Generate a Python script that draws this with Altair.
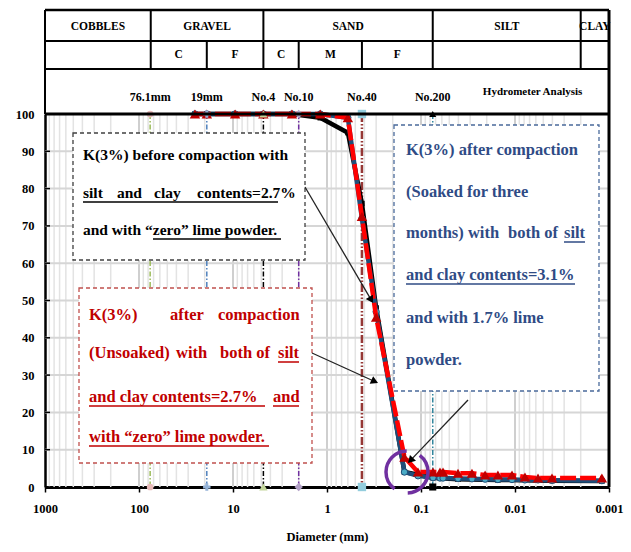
import math
import altair as alt
import pandas as pd

# ---------------- data ----------------
# Percent finer vs. particle diameter (mm): sieve analysis + hydrometer
before_mm = [25.4, 19.0, 9.5, 4.75, 2.36, 1.18, 0.6, 0.425, 0.3, 0.15, 0.075,
             0.0404, 0.0152, 0.00404, 0.00119]
before_pct = [100, 100, 100, 100, 100, 99, 95, 76, 48, 4.0, 2.5,
              2.1, 1.9, 1.7, 1.6]

soaked_mm = [25.4, 19.0, 9.5, 4.75, 2.36, 1.18, 0.6, 0.425, 0.3, 0.15,
             0.1076, 0.0745, 0.0628, 0.0583, 0.0404, 0.0287, 0.0208, 0.0152,
             0.01076, 0.00783, 0.00569, 0.00404, 0.00119]
soaked_pct = [100, 100, 100, 100, 100, 100, 99, 72, 47, 4.0,
              3.0, 2.5, 2.4, 2.4, 2.3, 2.2, 2.1, 2.0,
              2.0, 1.9, 1.9, 1.8, 1.7]

unsoaked_mm = [25.4, 19.0, 9.5, 4.75, 2.36, 1.18, 0.6, 0.425, 0.3, 0.15,
               0.1076, 0.0745, 0.0628, 0.0583, 0.0404, 0.0287, 0.0208, 0.0152,
               0.01076, 0.00783, 0.00569, 0.00404, 0.00119]
unsoaked_pct = [100, 100, 100, 100, 100, 100, 99, 72.5, 45.5, 8.0,
                4.0, 4.0, 4.0, 4.0, 3.7, 3.7, 3.2, 3.2,
                3.2, 2.7, 2.4, 2.4, 2.4]

# reference sieves
sieve_mm = [76.1, 19.0, 4.75, 2.0, 0.425, 0.075]
sieve_names = ["76.1mm", "19mm", "No.4", "No.10", "No.40", "No.200"]

# soil classification bands (mm)
class_edges = [1000, 75, 4.75, 0.075, 0.002, 0.001]
class_names = ["COBBLES", "GRAVEL", "SAND", "SILT", "CLAY"]
sub_edges = [1000, 75, 19, 4.75, 2.0, 0.425, 0.075, 0.002, 0.001]
sub_names = ["", "C", "F", "C", "M", "F", "", ""]

x_tick_values = [1000, 100, 10, 1, 0.1, 0.01, 0.001]
y_tick_values = list(range(0, 101, 10))

# ---------------- styling ----------------
W, H = 564, 373
SERIF = "Liberation Serif"
RED_TXT = "#C00000"
BLUE_TXT = "#2F4B85"

x_scale = alt.Scale(type="log", domain=[0.001, 1000], reverse=True, nice=False)
y_scale = alt.Scale(domain=[0, 100], nice=False, zero=False)

x_axis = alt.Axis(
    values=x_tick_values,
    labelExpr="datum.value >= 1 ? format(datum.value, 'd') : format(datum.value, '.3~f')",
    title="Diameter (mm)", grid=False, domain=True, domainColor="black",
    domainWidth=3, ticks=True, tickColor="black", tickWidth=1.5, tickSize=5,
    labelFont=SERIF, labelFontWeight="bold", labelFontSize=12.5,
    labelColor="black", labelPadding=10, labelFlush=False, labelOverlap=False,
    titleFont=SERIF, titleFontWeight="bold", titleFontSize=12.5,
    titleColor="black", titlePadding=16,
)
y_axis = alt.Axis(
    values=y_tick_values, grid=False, ticks=False, domain=True,
    domainColor="black", domainWidth=2.5, labelFont=SERIF,
    labelFontWeight="bold", labelFontSize=12.5, labelColor="black",
    labelPadding=11, title=None, labelFlush=False,
)


def xq(field):
    return alt.X(f"{field}:Q", scale=x_scale, axis=x_axis)


def yq(field):
    return alt.Y(f"{field}:Q", scale=y_scale, axis=y_axis)


one = pd.DataFrame({"k": [0]})


def seg(x1, y1, x2, y2, color="black", width=1.0, dash=None):
    kw = dict(color=color, strokeWidth=width)
    if dash:
        kw["strokeDash"] = dash
    return alt.Chart(one).mark_rule(**kw).encode(
        x=alt.value(x1), y=alt.value(y1), x2=alt.value(x2), y2=alt.value(y2))


def label(text, x, y, color="black", size=16.5, align="left", baseline="alphabetic"):
    return alt.Chart(one).mark_text(
        text=text, align=align, baseline=baseline, font=SERIF,
        fontSize=size, fontWeight="bold", color=color,
    ).encode(x=alt.value(x), y=alt.value(y))


layers = []

# ---- grid ----
minor = []
for e in range(-3, 3):
    for k in range(1, 10):
        v = k * 10 ** e
        if 0.001 < v < 1000:
            minor.append(round(v, 6))
grid_df = pd.DataFrame({"g": minor, "major": [abs(math.log10(v) - round(math.log10(v))) < 1e-9 for v in minor]})
layers.append(alt.Chart(grid_df[~grid_df.major]).mark_rule(color="#e3e3e3", strokeWidth=1.5).encode(
    x=xq("g"), y=alt.value(0), y2=alt.value(H)))
layers.append(alt.Chart(grid_df[grid_df.major]).mark_rule(color="#cfcfcf", strokeWidth=2).encode(
    x=xq("g"), y=alt.value(0), y2=alt.value(H)))
hgrid = pd.DataFrame({"g": y_tick_values[1:-1]})
layers.append(alt.Chart(hgrid).mark_rule(color="#d6d6d6", strokeWidth=2).encode(
    y=yq("g"), x=alt.value(0), x2=alt.value(W)))
layers.append(alt.Chart(pd.DataFrame({"g": y_tick_values})).mark_rule(color="black", strokeWidth=1.5).encode(
    y=yq("g"), x=alt.value(0), x2=alt.value(5)))

# ---- reference sieve lines ----
sieve_line_style = [
    ("#9BBB59", 1.5, [5, 2, 1.5, 2]),
    ("#4F81BD", 1.5, [5, 2, 1.5, 2]),
    ("#000000", 1.5, [5, 2, 1.5, 2]),
    ("#7030A0", 1.5, [5, 2, 1.5, 2]),
    ("#953735", 2.5, [8, 2, 1.5, 2, 1.5, 2]),
    ("#31859C", 1.5, [5, 2, 1.5, 2]),
]
for d, (col, w, dash) in zip(sieve_mm, sieve_line_style):
    layers.append(alt.Chart(pd.DataFrame({"d": [d]})).mark_rule(
        color=col, strokeWidth=w, strokeDash=dash).encode(
        x=xq("d"), y=alt.value(0), y2=alt.value(H)))

# ---- gradation curves ----
before = pd.DataFrame({"d": before_mm, "p": before_pct})
soaked = pd.DataFrame({"d": soaked_mm, "p": soaked_pct})
unsoaked = pd.DataFrame({"d": unsoaked_mm, "p": unsoaked_pct})

layers.append(alt.Chart(before).mark_line(color="black", strokeWidth=4.5).encode(x=xq("d"), y=yq("p")))
layers.append(alt.Chart(before).mark_point(shape="square", filled=True, size=30, color="black", opacity=1).encode(
    x=xq("d"), y=yq("p")))
layers.append(alt.Chart(soaked).mark_line(color="#1F4E79", strokeWidth=4.5).encode(x=xq("d"), y=yq("p")))
layers.append(alt.Chart(soaked).mark_point(shape="circle", filled=True, size=40, fill="#4BACC6",
                                           stroke="#1F4E79", strokeWidth=1, opacity=1).encode(
    x=xq("d"), y=yq("p")))
layers.append(alt.Chart(unsoaked).mark_line(color="#FF0000", strokeWidth=4.5, strokeDash=[16, 4]).encode(
    x=xq("d"), y=yq("p")))
layers.append(alt.Chart(unsoaked).mark_point(shape="triangle-up", filled=True, size=110,
                                             color="#C00000", opacity=1).encode(
    x=xq("d"), y=yq("p")))

# ---- sieve markers at 0 % and 100 % ----
sieve_marker_style = [
    ("circle", "#E6B9B8", 45),
    ("cross", "#95B3D7", 55),
    ("triangle-up", "#C3D69B", 70),
    ("diamond", "#B3A2C7", 70),
    ("square", "#93CDDD", 70),
    ("square", "#000000", 50),
]
for d, (shape, col, size) in zip(sieve_mm, sieve_marker_style):
    layers.append(alt.Chart(pd.DataFrame({"d": [d], "p": [0]})).mark_point(
        shape=shape, filled=True, color=col, size=size, opacity=1).encode(x=xq("d"), y=yq("p")))
    top_shape = "triangle-up" if col == "#000000" else shape
    layers.append(alt.Chart(pd.DataFrame({"d": [d], "p": [100]})).mark_point(
        shape=top_shape, filled=True, color=col, size=size, opacity=1).encode(x=xq("d"), y=yq("p")))

# ---- annotation boxes ----
boxes = [
    ((28, 19, 260, 146), "#404040"),
    ((34, 174, 267, 349), "#C0504D"),
    ((349, 11, 554, 277), "#4A6A9B"),
]
for (x1, y1, x2, y2), col in boxes:
    layers.append(alt.Chart(one).mark_rect(fill="white", stroke=col, strokeWidth=1.3,
                                           strokeDash=[4, 3]).encode(
        x=alt.value(x1), x2=alt.value(x2), y=alt.value(y1), y2=alt.value(y2)))

BASE = 5   # baseline offset below line centre
UL = 9     # underline offset below line centre

black_words = [
    ("K(3%) before compaction with", 38, 41),
    ("silt", 38, 79), ("and", 72, 79), ("clay", 109, 79), ("contents=2.7%", 152, 79),
    ("and with \u201czero\u201d lime powder.", 38, 116),
]
black_ul = [(38, 233, 79), (108, 236, 116)]

red_words = [
    ("K(3%)", 44, 201), ("after", 125, 201), ("compaction", 173, 201),
    ("(Unsoaked)", 44, 239), ("with", 131, 239), ("both of", 175, 239), ("silt", 233, 239),
    ("and clay contents=2.7%", 44, 283), ("and", 228, 283),
    ("with \u201czero\u201d lime powder.", 44, 323),
]
red_ul = [(233, 254, 239), (44, 220, 283), (228, 254, 283), (44, 224, 323)]

blue_words = [
    ("K(3%) after compaction", 361, 36),
    ("(Soaked for three", 361, 78),
    ("months) with", 361, 119), ("both of", 463, 119), ("silt", 519, 119),
    ("and clay contents=3.1%", 361, 161),
    ("and with 1.7% lime", 361, 204),
    ("powder.", 361, 246),
]
blue_ul = [(519, 540, 119), (361, 530, 161)]

for words, uls, col, size in [(black_words, black_ul, "black", 15.5),
                              (red_words, red_ul, RED_TXT, 16.5),
                              (blue_words, blue_ul, BLUE_TXT, 16.5)]:
    for t, x, y in words:
        layers.append(label(t, x, y + BASE, col, size))
    for x1, x2, y in uls:
        layers.append(seg(x1, y + UL, x2, y + UL, col, 1.5))

# ---- arrows ----
arrows = [((260, 73), (328, 189)), ((267, 239), (333, 269)), ((423, 286), (363, 349))]
for (x1, y1), (x2, y2) in arrows:
    dx, dy = x2 - x1, y2 - y1
    L = math.hypot(dx, dy)
    ang = math.degrees(math.atan2(dx, -dy)) % 360
    cx, cy = x2 - dx / L * 3.6, y2 - dy / L * 3.6
    layers.append(seg(x1, y1, cx, cy, "#222222", 1.3))
    layers.append(alt.Chart(one).mark_point(shape="triangle-up", filled=True, size=70,
                                            color="black", angle=ang, opacity=1).encode(
        x=alt.value(cx), y=alt.value(cy)))

# ring highlighting the fines content
layers.append(alt.Chart(one).mark_point(shape="circle", filled=False, size=1764, stroke="#7030A0",
                                        strokeWidth=3.5, strokeDash=[52, 14], strokeDashOffset=20,
                                        opacity=1).encode(
    x=alt.value(362), y=alt.value(358)))

# ---- frame ----
layers.append(seg(0, 0, W, 0, "black", 3))
layers.append(seg(W, -104, W, H, "black", 3))
layers.append(seg(0, -104, 0, 0, "black", 2))

# ---- header table ----
layers.append(seg(0, -104, W, -104, "black", 2.5))
layers.append(seg(0, -73, W, -73, "black", 2))
layers.append(seg(0, -45, W, -45, "black", 2))
layers.append(alt.Chart(pd.DataFrame({"e": class_edges[1:-1]})).mark_rule(color="black", strokeWidth=2).encode(
    x=xq("e"), y=alt.value(-104), y2=alt.value(-73)))
layers.append(alt.Chart(pd.DataFrame({"e": sub_edges[1:-1]})).mark_rule(color="black", strokeWidth=2).encode(
    x=xq("e"), y=alt.value(-73), y2=alt.value(-45)))

class_df = pd.DataFrame({
    "mid": [math.sqrt(a * b) for a, b in zip(class_edges[:-1], class_edges[1:])],
    "name": class_names})
sub_df = pd.DataFrame({
    "mid": [math.sqrt(a * b) for a, b in zip(sub_edges[:-1], sub_edges[1:])],
    "name": sub_names})
layers.append(alt.Chart(class_df).mark_text(font=SERIF, fontWeight="bold", fontSize=11.5,
                                            color="black", baseline="middle").encode(
    x=xq("mid"), y=alt.value(-87), text="name:N"))
layers.append(alt.Chart(sub_df).mark_text(font=SERIF, fontWeight="bold", fontSize=11.5,
                                          color="black", baseline="middle").encode(
    x=xq("mid"), y=alt.value(-59), text="name:N"))

sieve_df = pd.DataFrame({"d": sieve_mm, "name": sieve_names})
layers.append(alt.Chart(sieve_df).mark_text(font=SERIF, fontWeight="bold", fontSize=12,
                                            color="black", baseline="middle").encode(
    x=xq("d"), y=alt.value(-17), text="name:N"))
layers.append(alt.Chart(pd.DataFrame({"d": [0.0065], "name": ["Hydrometer Analysis"]})).mark_text(
    font=SERIF, fontWeight="bold", fontSize=11, color="black", baseline="middle").encode(
    x=xq("d"), y=alt.value(-22), text="name:N"))

chart = alt.layer(*layers).properties(
    width=W, height=H,
    autosize=alt.AutoSizeParams(type="none"),
    padding={"left": 45, "top": 114, "right": 22, "bottom": 65},
    background="white",
).configure_view(stroke=None)

chart.save("out.html", embed_options={"renderer": "svg", "actions": False})
